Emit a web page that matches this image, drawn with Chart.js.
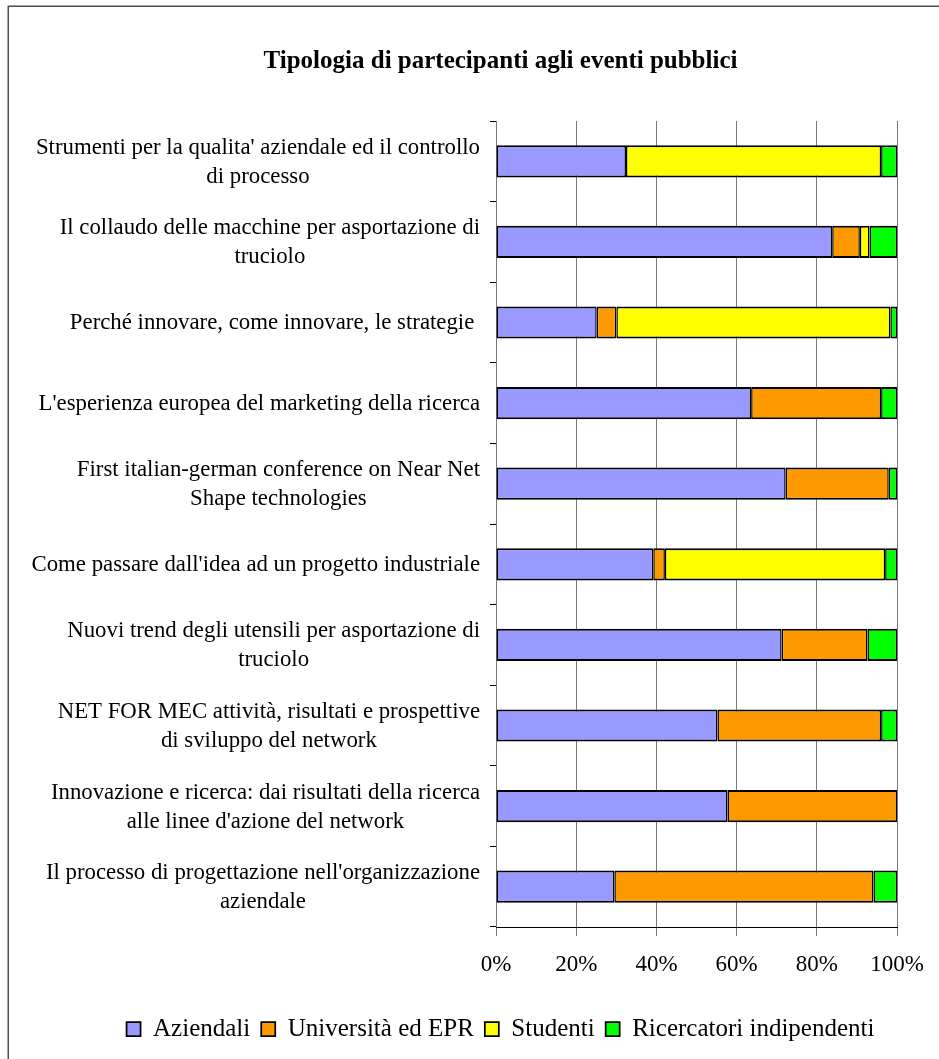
<!DOCTYPE html>
<html>
<head>
<meta charset="utf-8">
<script src="https://cdn.jsdelivr.net/npm/chart.js@4/dist/chart.umd.min.js"></script>
<style>
  html, body { margin: 0; padding: 0; background: #fff; }
  #wrap { position: relative; width: 939px; height: 1059px; }
</style>
</head>
<body>
<div id="wrap"><canvas id="c" width="939" height="1059"></canvas></div>
<script>
// Event names, top to bottom, split into the lines they are printed on
const categories = [
  ["Strumenti per la qualita' aziendale ed il controllo", "di processo"],
  ["Il collaudo delle macchine per asportazione di", "truciolo"],
  ["Perché innovare, come innovare, le strategie "],
  ["L'esperienza europea del marketing della ricerca"],
  ["First italian-german conference on Near Net", "Shape technologies"],
  ["Come passare dall'idea ad un progetto industriale"],
  ["Nuovi trend degli utensili per asportazione di", "truciolo"],
  ["NET FOR MEC attività, risultati e prospettive", "di sviluppo del network"],
  ["Innovazione e ricerca: dai risultati della ricerca", "alle linee d'azione del network"],
  ["Il processo di progettazione nell'organizzazione", "aziendale"]
];

// Share of participants (%) per group
const aziendali   = [32.4, 83.8, 25.1, 63.6, 72.2, 39.2, 71.2, 55.2, 57.7, 29.5];
const universita  = [0.0,  6.9,  4.9, 32.4, 25.7,  2.9, 21.4, 40.8, 42.3, 64.6];
const studenti    = [63.6, 2.4, 68.3,  0.0,  0.0, 54.9,  0.0,  0.0,  0.0,  0.0];
const ricercatori = [4.0,  6.9,  1.7,  4.0,  2.1,  3.0,  7.4,  4.0,  0.0,  5.9];

const seriesNames = ["Aziendali", "Università ed EPR", "Studenti", "Ricercatori indipendenti"];
const xTicks = [0, 20, 40, 60, 80, 100];
const chartTitle = "Tipologia di partecipanti agli eventi pubblici";

const SERIF = "'Liberation Serif', 'Times New Roman', serif";

// white background plus the thin frame round the whole chart
const framePlugin = {
  id: 'frame',
  beforeDraw(chart) {
    const ctx = chart.ctx;
    ctx.save();
    ctx.fillStyle = '#ffffff';
    ctx.fillRect(0, 0, chart.width, chart.height);
    ctx.strokeStyle = '#505050';
    ctx.lineWidth = 1.5;
    ctx.strokeRect(8.25, 6.25, chart.width + 20, chart.height + 20);
    ctx.restore();
  }
};

// category labels: each block right-aligned next to the axis, its lines centred on each other
const categoryLabelPlugin = {
  id: 'categoryLabels',
  afterDraw(chart) {
    const ctx = chart.ctx;
    const yScale = chart.scales.y;
    const right = yScale.right - 16;
    const lineGap = 29;
    ctx.save();
    ctx.font = "22.8px " + SERIF;
    ctx.fillStyle = '#000';
    ctx.textAlign = 'center';
    ctx.textBaseline = 'middle';
    categories.forEach((lines, i) => {
      const yc = yScale.getPixelForValue(i) + 1;
      const w = Math.max(...lines.map(l => ctx.measureText(l).width));
      const cx = right - w / 2;
      lines.forEach((line, j) => {
        ctx.fillText(line, cx, yc + (j - (lines.length - 1) / 2) * lineGap);
      });
    });
    ctx.restore();
  }
};

const barBorder = { top: 2, bottom: 2, left: 1.5, right: 1.5 };
function series(label, data, color) {
  return {
    label, data,
    backgroundColor: color,
    borderColor: '#000',
    borderWidth: barBorder,
    borderSkipped: false,
    barPercentage: 0.4,
    categoryPercentage: 1.0
  };
}

new Chart(document.getElementById('c'), {
  type: 'bar',
  data: {
    labels: categories.map(l => l.join(' ')),
    datasets: [
      series(seriesNames[0], aziendali, '#9999ff'),
      series(seriesNames[1], universita, '#ff9900'),
      series(seriesNames[2], studenti, '#ffff00'),
      series(seriesNames[3], ricercatori, '#00ff00')
    ]
  },
  options: {
    indexAxis: 'y',
    responsive: false,
    animation: false,
    events: [],
    layout: { padding: { left: 101, right: 39, top: 20, bottom: 7.5 } },
    scales: {
      x: {
        stacked: true,
        min: 0,
        max: 100,
        afterBuildTicks(scale) { scale.ticks = xTicks.map(v => ({ value: v })); },
        afterFit(scale) { scale.height = 78.5; },
        ticks: {
          callback: v => v + '%',
          color: '#000',
          padding: 15,
          maxRotation: 0,
          font: { family: SERIF, size: 23 }
        },
        grid: { color: '#7a7a7a', lineWidth: 1, tickLength: 9, drawTicks: true },
        border: { color: '#000', width: 1 }
      },
      y: {
        stacked: true,
        afterFit(scale) { scale.width = 496 - 101; },
        ticks: { display: false },
        grid: { drawOnChartArea: false, offset: true, tickLength: 6, color: '#000' },
        border: { display: false }
      }
    },
    plugins: {
      title: {
        display: true,
        text: chartTitle,
        color: '#000',
        font: { family: SERIF, size: 25, weight: 'bold' },
        padding: { top: 27, bottom: 44 }
      },
      legend: {
        position: 'bottom',
        labels: {
          color: '#000',
          boxWidth: 14,
          boxHeight: 14,
          padding: 11,
          font: { family: SERIF, size: 25 }
        }
      },
      tooltip: { enabled: false }
    }
  },
  plugins: [framePlugin, categoryLabelPlugin]
});
</script>
</body>
</html>
